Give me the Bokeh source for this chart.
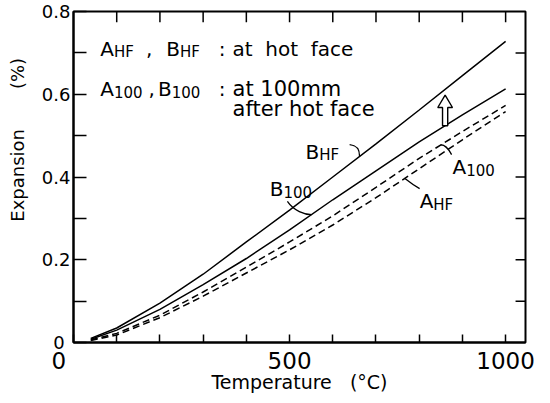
from bokeh.plotting import figure
from bokeh.models import FixedTicker, Range1d
from bokeh.core.properties import value
from bokeh.embed import file_html
from bokeh.resources import INLINE

# ---- data ----
temperature = [40, 100, 200, 300, 400, 500, 600, 700, 800, 900, 1000]
b_hf = [0.010, 0.035, 0.095, 0.165, 0.243, 0.320, 0.400, 0.480, 0.562, 0.645, 0.728]
b_100 = [0.008, 0.030, 0.080, 0.140, 0.203, 0.272, 0.345, 0.415, 0.485, 0.550, 0.613]
a_100 = [0.006, 0.022, 0.066, 0.122, 0.182, 0.243, 0.306, 0.375, 0.445, 0.510, 0.573]
a_hf = [0.005, 0.018, 0.060, 0.112, 0.168, 0.224, 0.284, 0.350, 0.420, 0.490, 0.558]

x_ticks = [0, 500, 1000]
x_minor = [100, 200, 300, 400, 600, 700, 800, 900]
y_ticks = [0, 0.2, 0.4, 0.6, 0.8]
y_minor = [0.1, 0.3, 0.5, 0.7]
top_ticks = [100, 200, 300, 400, 500, 600, 700, 800, 900, 1000]
right_ticks = [0.1, 0.2, 0.3, 0.4, 0.5, 0.6, 0.7]

FONT = "DejaVu Sans"
NB = "\u00a0"
X_MAX = 1046
Y_MAX = 0.8

p = figure(width=535, height=395, x_range=Range1d(0, X_MAX), y_range=Range1d(0, Y_MAX),
           output_backend="svg", toolbar_location=None,
           min_border_left=73, min_border_right=10, min_border_top=11, min_border_bottom=51)
p.background_fill_color = "white"
p.border_fill_color = "white"
p.outline_line_color = "black"
p.outline_line_width = 2
p.xgrid.visible = False
p.ygrid.visible = False

xa = p.xaxis[0]
xa.ticker = FixedTicker(ticks=x_ticks, minor_ticks=x_minor)
xa.major_label_overrides = {0: "0" + NB * 4}
xa.major_tick_in = 8
xa.major_tick_out = 0
xa.minor_tick_in = 8
xa.minor_tick_out = 0
xa.axis_line_width = 2
xa.major_tick_line_width = 1.5
xa.minor_tick_line_width = 1.5
xa.major_label_text_font = FONT
xa.major_label_text_font_size = "23px"
xa.major_label_text_color = "black"
xa.major_label_standoff = 5
xa.axis_label = "Temperature" + NB * 3 + "(°C)"
xa.axis_label_text_font = FONT
xa.axis_label_text_font_size = "19px"
xa.axis_label_text_font_style = "normal"
xa.axis_label_text_color = "black"
xa.axis_label_standoff = -6

ya = p.yaxis[0]
ya.ticker = FixedTicker(ticks=y_ticks, minor_ticks=y_minor)
ya.major_label_overrides = {0: "0" + NB, 0.2: "0.2", 0.4: "0.4", 0.6: "0.6", 0.8: "0.8"}
ya.major_tick_in = 13
ya.major_tick_out = 0
ya.minor_tick_in = 13
ya.minor_tick_out = 0
ya.axis_line_width = 2
ya.major_tick_line_width = 1.5
ya.minor_tick_line_width = 1.5
ya.major_label_text_font = FONT
ya.major_label_text_font_size = "18px"
ya.major_label_text_color = "black"
ya.major_label_standoff = 3
ya.axis_label = NB * 13 + "Expansion" + NB * 7 + "(%)"
ya.axis_label_text_font = FONT
ya.axis_label_text_font_size = "18px"
ya.axis_label_text_font_style = "normal"
ya.axis_label_text_color = "black"
ya.axis_label_standoff = 11

# inward ticks on the top and right frame edges
p.segment(x0=top_ticks, y0=[Y_MAX] * len(top_ticks), x1=top_ticks,
          y1=[Y_MAX - 0.026] * len(top_ticks), line_color="black", line_width=1.5)
p.segment(x0=[X_MAX] * len(right_ticks), y0=right_ticks, x1=[X_MAX - 23] * len(right_ticks),
          y1=right_ticks, line_color="black", line_width=1.5)

# ---- curves ----
p.line(temperature, b_hf, line_color="black", line_width=1.5)
p.line(temperature, b_100, line_color="black", line_width=1.5)
p.line(temperature, a_100, line_color="black", line_width=1.5, line_dash="7 4")
p.line(temperature, a_hf, line_color="black", line_width=1.5, line_dash="7 4")

# ---- text helper (main letters + subscripts) ----
W = {"A": .684, "B": .686, "H": .752, "F": .575, "1": .636, "0": .636,
     ",": .318, " ": .318, NB: .318, ":": .337}


def rich(x, y, parts, size, sub_size, sub_drop):
    off = 0.0
    for txt, is_sub, gap in parts:
        off += gap
        fs = sub_size if is_sub else size
        yy = y - sub_drop if is_sub else y
        p.text(x=[x], y=[yy], text=[txt], x_offset=[off], text_font=value(FONT),
               text_font_size=f"{fs}px", text_color="black", text_baseline="alphabetic",
               text_align="left")
        off += sum(W.get(c, 0.6) for c in txt) * fs


# legend block
rich(62, 0.709, [("A", False, 0), ("HF", True, 0), (",", False, 12), ("B", False, 14), ("HF", True, 0)],
     20, 15, 0.007)
rich(62, 0.613, [("A", False, 0), ("100", True, 0), (",", False, 6), ("B", False, 3), ("100", True, 0)],
     20, 15, 0.007)
p.text(x=[336, 336], y=[0.709, 0.613], text=[":", ":"], text_font=value(FONT),
       text_font_size="20px", text_color="black", text_baseline="alphabetic")
p.text(x=[368], y=[0.709], text=["at" + NB * 2 + "hot" + NB * 2 + "face"],
       text_font=value(FONT), text_font_size="20px", text_color="black", text_baseline="alphabetic")
p.text(x=[368, 368], y=[0.613, 0.565], text=["at 100mm", "after hot face"],
       text_font=value(FONT), text_font_size="21px", text_color="black", text_baseline="alphabetic")

# curve labels
rich(537, 0.461, [("B", False, 0), ("HF", True, 0)], 20, 15, 0.009)
rich(454, 0.372, [("B", False, 0), ("100", True, 0)], 20, 15, 0.009)
rich(877, 0.425, [("A", False, 0), ("100", True, 0)], 20, 15, 0.009)
rich(801, 0.341, [("A", False, 0), ("HF", True, 0)], 20, 15, 0.009)

# leader lines
p.bezier(x0=[639, 495, 875, 801], y0=[0.478, 0.341, 0.454, 0.372],
         x1=[662, 551, 850, 766], y1=[0.450, 0.309, 0.478, 0.397],
         cx0=[660, 510, 865, 780], cy0=[0.476, 0.318, 0.474, 0.384],
         cx1=[662, 535, 855, 770], cy1=[0.462, 0.309, 0.478, 0.394],
         line_color="black", line_width=1.3)

# hollow arrow between B100 and BHF
arrow_x = 860
arrow_base = 0.524
arrow_tip = 0.598
shaft = 6
head = 17
head_h = 0.030
ax = [arrow_x - shaft, arrow_x - shaft, arrow_x - head, arrow_x, arrow_x + head, arrow_x + shaft, arrow_x + shaft]
ay = [arrow_base, arrow_tip - head_h, arrow_tip - head_h, arrow_tip, arrow_tip - head_h, arrow_tip - head_h, arrow_base]
p.patch(ax, ay, fill_color="white", line_color="black", line_width=1.4)

open("out.html", "w").write(file_html(p, INLINE))
